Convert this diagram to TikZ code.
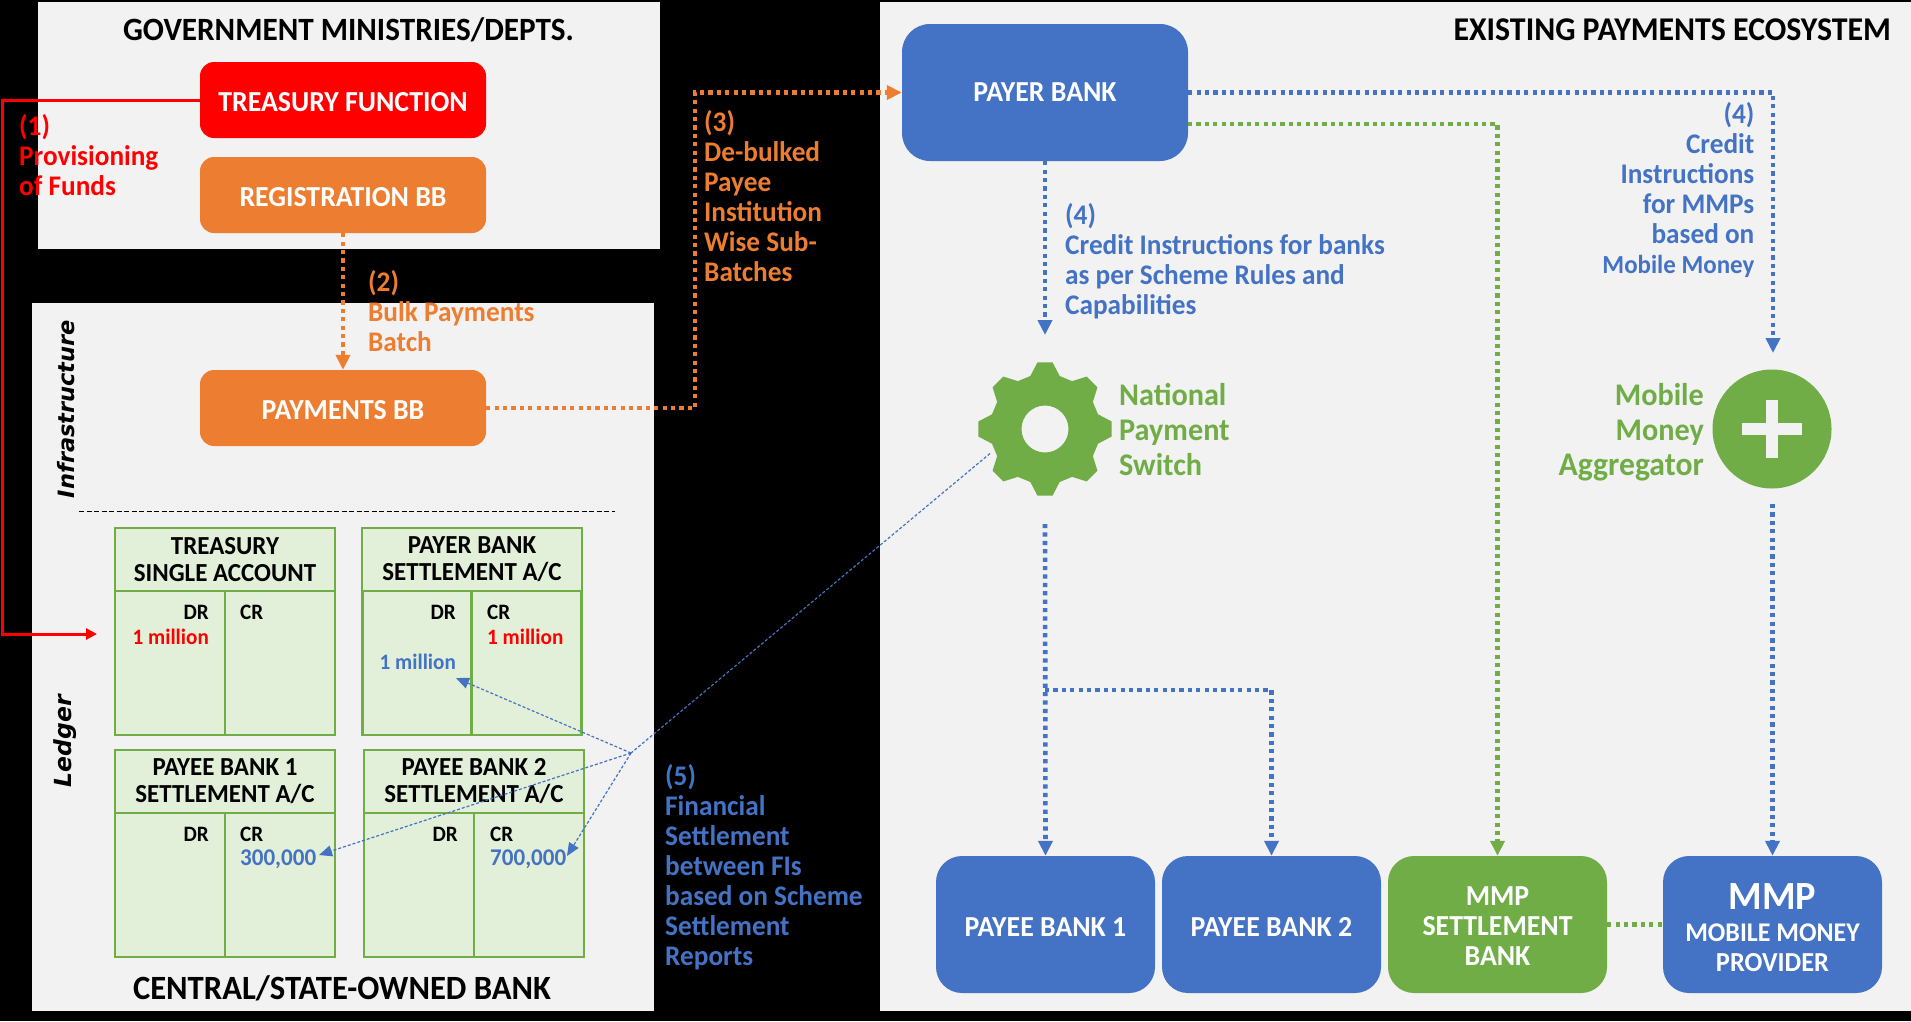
\documentclass[tikz,border=0pt]{standalone}
\usepackage{fontspec}
\setmainfont{Carlito}[FakeStretch=0.96]
\newfontfamily\sidefont{DejaVu Sans}
\usetikzlibrary{positioning,arrows.meta,shapes}
\definecolor{panelgrey}{HTML}{F2F2F2}
\definecolor{pblue}{HTML}{4472C4}
\definecolor{pgreen}{HTML}{70AD47}
\definecolor{porange}{HTML}{ED7D31}
\definecolor{pred}{HTML}{FF0000}
\definecolor{acclight}{HTML}{E2EFD9}
\newcommand{\sized}[1]{\fontsize{#1}{30}\selectfont}
\tikzset{
  heading/.style={font=\bfseries\fontsize{#1}{34}\selectfont, text=black, inner sep=0pt},
  sidelabel/.style={font=\sidefont\bfseries\itshape\fontsize{#1}{24}\selectfont, text=black, rotate=90, inner sep=0pt},
  low text/.style={execute at begin node={\rule{0pt}{23.5pt}}},
  wide box/.style={rounded corners=14pt, minimum width=286pt, minimum height=76pt, text=white, inner sep=0pt,
    font=\bfseries\fontsize{29}{30}\selectfont, low text},
  bank box/.style={rounded corners=26pt, minimum width=219pt, minimum height=137pt, text=white, inner sep=0pt, align=center,
    font=\bfseries\fontsize{29}{30}\selectfont},
  note/.style={font=\bfseries\fontsize{28.4}{30}\selectfont, inner sep=0pt},
  big note/.style={font=\bfseries\fontsize{31.5}{35}\selectfont, text=pgreen, inner sep=0pt},
  acchead/.style={draw=pgreen, line width=2.5pt, fill=acclight, minimum width=220pt, minimum height=63pt, inner sep=0pt,
    align=center, font=\bfseries\fontsize{26}{27}\selectfont},
  acccol/.style={draw=pgreen, line width=2.5pt, fill=acclight, minimum width=110pt, minimum height=144pt, inner sep=0pt},
  acctext/.style={font=\bfseries\fontsize{22}{24}\selectfont, inner sep=0pt},
  accnum/.style={font=\bfseries\fontsize{24}{24}\selectfont, inner sep=0pt},
  dotted link/.style={line width=4.6pt, dash pattern=on 4.2pt off 4.2pt},
  link tip/.style={-{Triangle[length=15pt,width=14pt]}},
  settle link/.style={pblue, line width=1.2pt, dash pattern=on 3pt off 2pt, -{Triangle[length=13pt,width=11pt]}},
}
\begin{document}
\begin{tikzpicture}[x=1pt,y=-1pt]
  \useasboundingbox (0,0) rectangle (1911,1021);
  \fill[black] (0,0) rectangle (1911,1021);

  % panels
  \fill[panelgrey] (38,2) rectangle (660,249);
  \fill[panelgrey] (32,303) rectangle (654,1011);
  \fill[panelgrey] (880,2) rectangle (1911,1011);
  \node[heading=32.5] (govtitle) at (348.5,30) {GOVERNMENT MINISTRIES/DEPTS.};
  \node[heading=34] (banktitle) at (342,988) {CENTRAL/STATE-OWNED BANK};
  \node[heading=33.2] (ecotitle) [anchor=east] at (1891,30) {EXISTING PAYMENTS ECOSYSTEM};
  \node[sidelabel=22.5] (infralabel) at (66,409) {Infrastructure};
  \node[sidelabel=23.5] (ledgerlabel) at (65,741) {Ledger};
  \draw[black, line width=1pt, dash pattern=on 5pt off 2.5pt] (79,511) -- (615,511);

  % left boxes
  \node[wide box, fill=pred] (treasury) at (343,100) {TREASURY FUNCTION};
  \node[wide box, fill=porange] (registration) at (343,195) {REGISTRATION BB};
  \node[wide box, fill=porange] (paymentsbb) at (343,408) {PAYMENTS BB};

  % ledger accounts
  \node[acchead] (tsahead) at (225,559.5) {TREASURY\\SINGLE ACCOUNT};
  \node[acccol] (tsadr) at (170,663) {};
  \node[acccol] (tsacr) at (280,663) {};
  \node[acctext, anchor=east] (tsadrtext) at (209,612) {DR};
  \node[acctext, anchor=west] (tsacrtext) at (240,612) {CR};
  \node[acctext, anchor=east, text=pred] (tsaamount) at (209,637) {1 million};

  \node[acchead] (payerhead) at (472,559.5) {PAYER BANK\\SETTLEMENT A/C};
  \node[acccol] (payerdr) at (417.5,663) {};
  \node[acccol] (payercr) at (526.5,663) {};
  \node[acctext, anchor=east] (payerdrtext) at (456,612) {DR};
  \node[acctext, anchor=west] (payercrtext) at (487,612) {CR};
  \node[acctext, anchor=west, text=pred] (payercramount) at (487,637) {1 million};
  \node[acctext, anchor=east, text=pblue] (payerdramount) at (456,662) {1 million};

  \node[acchead] (payeeonehead) at (225,781.5) {PAYEE BANK 1\\SETTLEMENT A/C};
  \node[acccol] (payeeonedr) at (170,885) {};
  \node[acccol] (payeeonecr) at (280,885) {};
  \node[acctext, anchor=east] (payeeonedrtext) at (209,834) {DR};
  \node[acctext, anchor=west] (payeeonecrtext) at (240,834) {CR};
  \node[accnum, anchor=west, text=pblue] (payeeoneamount) at (240,859) {300,000};

  \node[acchead] (payeetwohead) at (474,781.5) {PAYEE BANK 2\\SETTLEMENT A/C};
  \node[acccol] (payeetwodr) at (419,885) {};
  \node[acccol] (payeetwocr) at (529,885) {};
  \node[acctext, anchor=east] (payeetwodrtext) at (458,834) {DR};
  \node[acctext, anchor=west] (payeetwocrtext) at (490,834) {CR};
  \node[accnum, anchor=west, text=pblue] (payeetwoamount) at (490,859) {700,000};

  % right boxes
  \node[bank box, minimum width=286pt, fill=pblue, rounded corners=28pt] (payerbank) at (1045,92.5) {PAYER BANK};
  \node[bank box, low text, fill=pblue] (payeeone) at (1045.5,924.5) {PAYEE BANK 1};
  \node[bank box, low text, fill=pblue] (payeetwo) at (1271.5,924.5) {PAYEE BANK 2};
  \node[bank box, fill=pgreen] (mmpbank) at (1497.5,924.5) {\rule{0pt}{22.5pt}MMP\\SETTLEMENT\\BANK};
  \node[bank box, fill=pblue] (mmp) at (1772.5,924.5)
    {{\fontsize{40}{44}\selectfont\rule{0pt}{33pt}MMP}\\[2pt]{\sized{27}MOBILE MONEY}\\{\sized{27.5}PROVIDER}};

  % switch and aggregator
  \node[circle, minimum size=120pt, inner sep=0pt] (switchgear) at (1045,429) {};
  \fill[pgreen, even odd rule]
    (switchgear.center) ++(-15.5:55) -- ++(0,0)
    \foreach \tooth in {0,45,...,315} {
      -- ([shift={(\tooth-15.5:55)}]switchgear.center)
      -- ([shift={(\tooth-6.5:67)}]switchgear.center)
      -- ([shift={(\tooth+6.5:67)}]switchgear.center)
      -- ([shift={(\tooth+15.5:55)}]switchgear.center)
    } -- cycle
    (switchgear.center) circle (23.5);
  \node[circle, fill=pgreen, minimum size=119pt, inner sep=0pt] (aggregator) at (1772,429) {};
  \fill[panelgrey] (1742,423) rectangle (1802,435);
  \fill[panelgrey] (1766,400) rectangle (1778,458);
  \node[big note, anchor=west, align=left] (switchlabel) at (1119,430) {National\\Payment\\Switch};
  \node[big note, anchor=east, align=right] (aggrlabel) at (1704,432) {Mobile\\Money\\{\sized{33}Aggregator}};

  % connectors
  \coordinate (redtop) at (2,100);
  \coordinate (redtip) at (97,634);
  \draw[pred, line width=3pt, -{Triangle[length=11pt,width=11pt]}] (treasury.west) -- (redtop) |- (redtip);

  \draw[porange, dotted link, link tip] (registration.south) -- (paymentsbb.north);
  \coordinate (orangebend) at (695,408);
  \draw[porange, dotted link, link tip] (paymentsbb.east) -- (orangebend) |- (payerbank.west);

  \coordinate (bluebend) at (1773,92.5);
  \coordinate (aggrtip) at (1773,353);
  \draw[pblue, dotted link, link tip] (payerbank.east) -- (bluebend) -- (aggrtip);
  \coordinate (greenstart) at (1188,124);
  \coordinate (greenbend) at (1497.5,124);
  \draw[pgreen, dotted link, link tip] (greenstart) -- (greenbend) -- (mmpbank.north);
  \coordinate (switchtip) at (1045,335);
  \draw[pblue, dotted link, link tip] (payerbank.south) -- (switchtip);

  \coordinate (switchout) at (1045,524);
  \coordinate (branchturn) at (1045,690);
  \coordinate (branchend) at (1271.5,690);
  \draw[pblue, dotted link, link tip] (switchout) -- (payeeone.north);
  \draw[pblue, dotted link, link tip] (branchturn) -- (branchend) -- (payeetwo.north);
  \coordinate (aggrout) at (1772.5,504);
  \draw[pblue, dotted link, link tip] (aggrout) -- (mmp.north);
  \draw[pgreen, dotted link] (mmpbank.east) -- (mmp.west);

  % settlement lines
  \coordinate (settlehub) at (631,753);
  \coordinate (payertip) at (456,678);
  \coordinate (payeeonetip) at (319,855);
  \coordinate (payeetwotip) at (567,856);
  \draw[pblue, line width=1.2pt, dash pattern=on 3pt off 2pt] (switchgear.204) -- (settlehub);
  \draw[settle link] (settlehub) -- (payertip);
  \draw[settle link] (settlehub) -- (payeeonetip);
  \draw[settle link] (settlehub) -- (payeetwotip);

  % step notes
  \node[note, text=pred, anchor=west, align=left] (noteone) at (19,155) {(1)\\Provisioning\\of Funds};
  \node[note, text=porange, anchor=west, align=left] (notetwo) at (368,311) {(2)\\Bulk Payments\\Batch};
  \node[note, text=porange, anchor=west, align=left] (notethree) at (704,196) {(3)\\De-bulked\\Payee\\Institution\\Wise Sub-\\Batches};
  \node[note, text=pblue, anchor=west, align=left] (notefourbanks) at (1065,261) {(4)\\Credit Instructions for banks\\as per Scheme Rules and\\Capabilities};
  \node[note, text=pblue, anchor=east, align=right] (notefourmmps) at (1754.5,189.5) {(4)\\Credit\\Instructions\\for MMPs\\based on\\{\sized{26}Mobile Money}};
  \node[note, text=pblue, anchor=west, align=left] (notefive) at (665,867) {(5)\\Financial\\Settlement\\between FIs\\based on Scheme\\Settlement\\Reports};
\end{tikzpicture}
\end{document}
